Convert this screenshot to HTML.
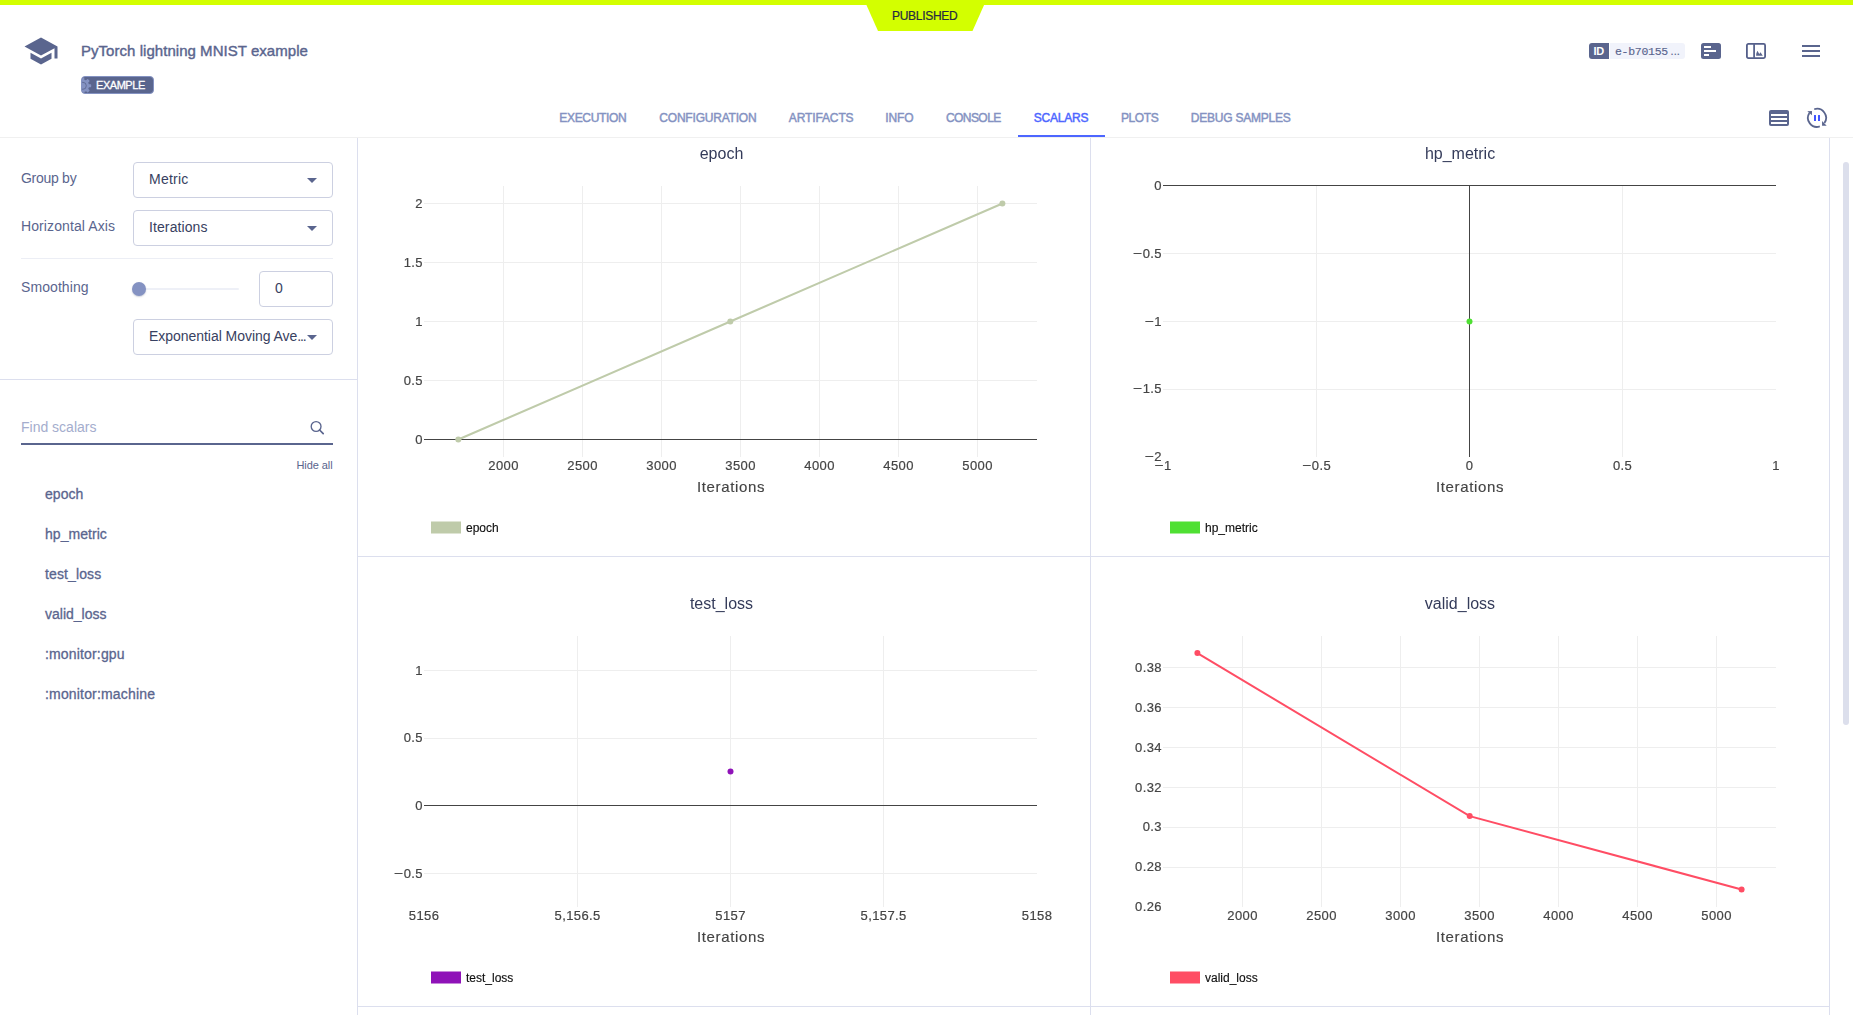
<!DOCTYPE html>
<html><head><meta charset="utf-8"><title>ClearML</title>
<style>
html,body{margin:0;padding:0;}
body{width:1853px;height:1015px;overflow:hidden;background:#fff;position:relative;font-family:"Liberation Sans", sans-serif;color:#5a658e;}
.a{position:absolute;}
.t{position:absolute;white-space:pre;line-height:1;}
.m{-webkit-text-stroke:0.3px currentColor;}
.sel{position:absolute;box-sizing:border-box;border:1px solid #ccd0e1;border-radius:4px;background:#fff;}
.arr{position:absolute;width:0;height:0;border-left:5px solid transparent;border-right:5px solid transparent;border-top:5px solid #5a658e;}
svg text{font-family:"Liberation Sans", sans-serif;}
.tk{font-size:13px;fill:#444;stroke:#444;stroke-width:0.2px;letter-spacing:0.4px;}
.ax{font-size:15px;fill:#444;stroke:#444;stroke-width:0.15px;letter-spacing:0.65px;}
.ti{font-size:16px;fill:#343b5a;}
.lg{font-size:12px;fill:#111;stroke:#111;stroke-width:0.15px;}
</style></head><body>

<div class="a" style="left:0;top:0;width:1853px;height:5px;background:#d3ff00"></div>
<svg class="a" style="left:860px;top:0" width="130" height="34"><polygon points="6,4 124.5,4 112.5,31 18,31" fill="#d3ff00"/></svg>
<div class="t" style="left:892px;top:10px;font-size:12px;letter-spacing:-0.3px;-webkit-text-stroke:0.2px #262b40;color:#262b40">PUBLISHED</div>
<svg class="a" style="left:23px;top:33px" width="36" height="36" viewBox="0 0 24 24"><path fill="#5a658e" d="M5 13.18v4L12 21l7-3.82v-4L12 17l-7-3.82zM12 3L1 9l11 6 9-4.91V17h2V9L12 3z"/></svg>
<div class="t" style="left:81px;top:43px;font-size:15px;letter-spacing:0.04px;-webkit-text-stroke:0.4px #5a658e;color:#5a658e">PyTorch lightning MNIST example</div>
<div class="a" style="left:81px;top:76px;width:73px;height:18px;box-sizing:border-box;border:1px solid #8492c2;border-radius:4px;background:#5a658e;overflow:hidden"><svg width="14" height="16" style="position:absolute;left:0;top:0"><g fill="#8492c2"><circle cx="0.8" cy="8.8" r="6.3"/><rect x="5.3" y="7.200000000000001" width="3.9" height="3.1" rx="0.7" transform="rotate(0 0.8 8.8)"/><rect x="5.3" y="7.200000000000001" width="3.9" height="3.1" rx="0.7" transform="rotate(45 0.8 8.8)"/><rect x="5.3" y="7.200000000000001" width="3.9" height="3.1" rx="0.7" transform="rotate(90 0.8 8.8)"/><rect x="5.3" y="7.200000000000001" width="3.9" height="3.1" rx="0.7" transform="rotate(135 0.8 8.8)"/><rect x="5.3" y="7.200000000000001" width="3.9" height="3.1" rx="0.7" transform="rotate(180 0.8 8.8)"/><rect x="5.3" y="7.200000000000001" width="3.9" height="3.1" rx="0.7" transform="rotate(225 0.8 8.8)"/><rect x="5.3" y="7.200000000000001" width="3.9" height="3.1" rx="0.7" transform="rotate(270 0.8 8.8)"/><rect x="5.3" y="7.200000000000001" width="3.9" height="3.1" rx="0.7" transform="rotate(315 0.8 8.8)"/></g><circle cx="0.8" cy="8.8" r="3.5" fill="none" stroke="#5a658e" stroke-width="0.8"/></svg></div>
<div class="t" style="left:96px;top:79.5px;font-size:11px;color:#fff;letter-spacing:-0.45px;-webkit-text-stroke:0.3px #fff">EXAMPLE</div>
<div class="a" style="left:1589px;top:43px;width:20px;height:16px;background:#5a658e;border-radius:3px 0 0 3px"></div>
<div class="t" style="left:1593.5px;top:46px;font-size:11px;font-weight:700;color:#fff;letter-spacing:-0.3px">ID</div>
<div class="a" style="left:1610px;top:43px;width:75px;height:16px;background:#f1f3fb;border-radius:0 3px 3px 0"></div>
<div class="t" style="left:1615px;top:46.3px;font-size:11.5px;letter-spacing:-0.28px;-webkit-text-stroke:0.15px #5a658e;font-family:'Liberation Mono', monospace;color:#5a658e">e-b70155</div>
<div class="t" style="left:1670.5px;top:46.3px;font-size:11px;color:#5a658e;letter-spacing:0.1px;-webkit-text-stroke:0.15px #5a658e">...</div>
<svg class="a" style="left:1701px;top:43px" width="20" height="16"><rect width="20" height="16" rx="2.5" fill="#5a658e"/><rect x="3" y="3" width="7" height="2" fill="#fff"/><rect x="3" y="7" width="12" height="2" fill="#fff"/><rect x="3" y="11" width="5" height="2" fill="#fff"/></svg>
<svg class="a" style="left:1746px;top:43px" width="20" height="16"><rect x="0.9" y="0.9" width="18.2" height="14.2" rx="1.5" fill="none" stroke="#545f8a" stroke-width="1.8"/><rect x="7.2" y="0.5" width="1.8" height="15" fill="#5a658e"/><path d="M10.1 12.7 L10.3 10.4 L11.4 7.8 L13.3 10.9 L14.5 9.2 L16.8 12.7 Z" fill="#5a658e"/></svg>
<svg class="a" style="left:1799px;top:39px" width="24" height="24" viewBox="0 0 24 24"><path fill="#5a658e" d="M3 18h18v-2H3v2zm0-5h18v-2H3v2zm0-7v2h18V6H3z"/></svg>
<div class="t" style="left:559.3px;top:112px;font-size:12px;letter-spacing:-0.33px;-webkit-text-stroke:0.45px #8492c2;color:#8492c2">EXECUTION</div>
<div class="t" style="left:659.3px;top:112px;font-size:12px;letter-spacing:-0.2px;-webkit-text-stroke:0.45px #8492c2;color:#8492c2">CONFIGURATION</div>
<div class="t" style="left:788.8px;top:112px;font-size:12px;letter-spacing:-0.12px;-webkit-text-stroke:0.45px #8492c2;color:#8492c2">ARTIFACTS</div>
<div class="t" style="left:885.2px;top:112px;font-size:12px;letter-spacing:-0.05px;-webkit-text-stroke:0.45px #8492c2;color:#8492c2">INFO</div>
<div class="t" style="left:945.9px;top:112px;font-size:12px;letter-spacing:-0.55px;-webkit-text-stroke:0.45px #8492c2;color:#8492c2">CONSOLE</div>
<div class="t" style="left:1033.7px;top:112px;font-size:12px;letter-spacing:-0.2px;-webkit-text-stroke:0.45px #4d66ff;color:#4d66ff">SCALARS</div>
<div class="t" style="left:1120.9px;top:112px;font-size:12px;letter-spacing:-0.38px;-webkit-text-stroke:0.45px #8492c2;color:#8492c2">PLOTS</div>
<div class="t" style="left:1190.7px;top:112px;font-size:12px;letter-spacing:-0.22px;-webkit-text-stroke:0.45px #8492c2;color:#8492c2">DEBUG SAMPLES</div>
<div class="a" style="left:1018px;top:135px;width:87px;height:2px;background:#4d66ff"></div>
<div class="a" style="left:0;top:137px;width:1853px;height:1px;background:#f0f0f0"></div>
<svg class="a" style="left:1769px;top:110px" width="20" height="16"><rect width="20" height="16" rx="2" fill="#5a658e"/><rect x="2" y="4" width="16" height="2" fill="#fff"/><rect x="2" y="8" width="16" height="2" fill="#fff"/><rect x="2" y="12" width="16" height="2" fill="#fff"/></svg>
<svg class="a" style="left:1805px;top:106px" width="24" height="24" viewBox="0 0 24 24">
<g fill="none" stroke="#5a658e" stroke-width="1.8">
<path d="M4.41 6.92 A9.05 9.05 0 0 0 14.80 20.46"/>
<path d="M9.20 3.24 A9.05 9.05 0 0 1 19.41 17.04"/>
</g>
<path d="M2.3 5.15 L6.95 4.95 L6.95 9.3 Z" fill="#5a658e"/>
<path d="M17.05 15.0 L17.05 19.85 L21.7 19.65 Z" fill="#5a658e"/>
<rect x="9" y="9" width="2" height="6" rx="0.3" fill="#4256ff"/><rect x="13" y="9" width="2" height="6" rx="0.3" fill="#4256ff"/>
</svg>
<div class="a" style="left:357px;top:138px;width:1px;height:877px;background:#dcdfee"></div>
<div class="a" style="left:0;top:379px;width:357px;height:1px;background:#dcdfee"></div>
<div class="t" style="left:21px;top:171px;font-size:14px;letter-spacing:-0.28px">Group by</div>
<div class="t" style="left:21px;top:219px;font-size:14px;letter-spacing:0.1px">Horizontal Axis</div>
<div class="t" style="left:21px;top:280px;font-size:14px;letter-spacing:0.08px">Smoothing</div>
<div class="sel" style="left:133px;top:162px;width:200px;height:36px"></div>
<div class="sel" style="left:133px;top:210px;width:200px;height:36px"></div>
<div class="sel" style="left:259px;top:271px;width:74px;height:36px"></div>
<div class="sel" style="left:133px;top:319px;width:200px;height:36px"></div>
<div class="t" style="left:149px;top:172px;font-size:14px;letter-spacing:0.25px;color:#384161">Metric</div>
<div class="t" style="left:149px;top:220px;font-size:14px;letter-spacing:0.1px;color:#384161">Iterations</div>
<div class="t" style="left:275px;top:280.5px;font-size:14px;color:#384161">0</div>
<div class="t" style="left:149px;top:329px;font-size:14px;letter-spacing:-0.04px;color:#384161">Exponential Moving Ave<span style="letter-spacing:-1.2px">...</span></div>
<div class="arr" style="left:307px;top:178px"></div>
<div class="arr" style="left:307px;top:226px"></div>
<div class="arr" style="left:307px;top:335px"></div>
<div class="a" style="left:21px;top:258px;width:312px;height:1px;background:#eceef5"></div>
<div class="a" style="left:139px;top:288px;width:100px;height:2px;background:#eef0f7;border-radius:1px"></div>
<div class="a" style="left:132px;top:282px;width:14px;height:14px;border-radius:50%;background:#8492c2;box-shadow:0 1px 1.5px rgba(60,70,110,.25)"></div>
<div class="t" style="left:21px;top:420px;font-size:14px;color:#a4adcd">Find scalars</div>
<div class="a" style="left:21px;top:443px;width:312px;height:2px;background:#5a658e"></div>
<svg class="a" style="left:308px;top:419px" width="18" height="18"><circle cx="8.1" cy="7.5" r="4.9" fill="none" stroke="#5a658e" stroke-width="1.35"/><path d="M11.6 11 L15.2 14.6" stroke="#5a658e" stroke-width="1.7" stroke-linecap="round"/></svg>
<div class="t" style="left:296.5px;top:460px;font-size:11px;letter-spacing:-0.08px">Hide all</div>
<div class="t m" style="left:45px;top:486.6px;font-size:14px;letter-spacing:0.03px">epoch</div>
<div class="t m" style="left:45px;top:526.6px;font-size:14px;letter-spacing:0.05px">hp_metric</div>
<div class="t m" style="left:45px;top:566.6px;font-size:14px;letter-spacing:0.12px">test_loss</div>
<div class="t m" style="left:45px;top:606.6px;font-size:14px;letter-spacing:0px">valid_loss</div>
<div class="t m" style="left:45px;top:646.6px;font-size:14px;letter-spacing:0.16px">:monitor:gpu</div>
<div class="t m" style="left:45px;top:686.6px;font-size:14px;letter-spacing:0.17px">:monitor:machine</div>
<div class="a" style="left:1090px;top:138px;width:1px;height:877px;background:#dcdfee"></div>
<div class="a" style="left:1829px;top:138px;width:1px;height:877px;background:#dcdfee"></div>
<div class="a" style="left:358px;top:556px;width:1471px;height:1px;background:#dcdfee"></div>
<div class="a" style="left:358px;top:1006px;width:1471px;height:1px;background:#dcdfee"></div>
<div class="a" style="left:1843px;top:162px;width:6px;height:563px;border-radius:3px;background:#dcdfec"></div>
<svg class="a" style="left:0;top:0;will-change:transform" width="1853" height="1015" viewBox="0 0 1853 1015"><rect x="503" y="186" width="1" height="271" fill="#eeeeee"/>
<rect x="582" y="186" width="1" height="271" fill="#eeeeee"/>
<rect x="661" y="186" width="1" height="271" fill="#eeeeee"/>
<rect x="740" y="186" width="1" height="271" fill="#eeeeee"/>
<rect x="819" y="186" width="1" height="271" fill="#eeeeee"/>
<rect x="898" y="186" width="1" height="271" fill="#eeeeee"/>
<rect x="977" y="186" width="1" height="271" fill="#eeeeee"/>
<rect x="424" y="203" width="613" height="1" fill="#eeeeee"/>
<rect x="424" y="262" width="613" height="1" fill="#eeeeee"/>
<rect x="424" y="321" width="613" height="1" fill="#eeeeee"/>
<rect x="424" y="380" width="613" height="1" fill="#eeeeee"/>
<rect x="424" y="439" width="613" height="1" fill="#444444"/>
<text class="ti" x="721.5" y="158.8" text-anchor="middle">epoch</text>
<text class="tk" x="503.6" y="470" text-anchor="middle">2000</text>
<text class="tk" x="582.6" y="470" text-anchor="middle">2500</text>
<text class="tk" x="661.6" y="470" text-anchor="middle">3000</text>
<text class="tk" x="740.6" y="470" text-anchor="middle">3500</text>
<text class="tk" x="819.6" y="470" text-anchor="middle">4000</text>
<text class="tk" x="898.6" y="470" text-anchor="middle">4500</text>
<text class="tk" x="977.6" y="470" text-anchor="middle">5000</text>
<text class="tk" x="423" y="207.8" text-anchor="end">2</text>
<text class="tk" x="423" y="266.8" text-anchor="end">1.5</text>
<text class="tk" x="423" y="325.8" text-anchor="end">1</text>
<text class="tk" x="423" y="384.8" text-anchor="end">0.5</text>
<text class="tk" x="423" y="443.8" text-anchor="end">0</text>
<text class="ax" x="731.0" y="492" text-anchor="middle">Iterations</text>
<path d="M458.3,439.5 L730.3,321.5 L1002.4,203.5" fill="none" stroke="#bfcbaa" stroke-width="2"/>
<circle cx="458.3" cy="439.5" r="3" fill="#bfcbaa"/>
<circle cx="730.3" cy="321.5" r="3" fill="#bfcbaa"/>
<circle cx="1002.4" cy="203.5" r="3" fill="#bfcbaa"/>
<rect x="431" y="521.5" width="30" height="12" fill="#bfcbaa"/>
<text class="lg" x="466" y="532">epoch</text>
<rect x="1316" y="186" width="1" height="271" fill="#eeeeee"/>
<rect x="1622" y="186" width="1" height="271" fill="#eeeeee"/>
<rect x="1163" y="253" width="613" height="1" fill="#eeeeee"/>
<rect x="1163" y="321" width="613" height="1" fill="#eeeeee"/>
<rect x="1163" y="389" width="613" height="1" fill="#eeeeee"/>
<rect x="1469" y="186" width="1" height="271" fill="#444444"/>
<rect x="1163" y="185" width="613" height="1" fill="#444444"/>
<text class="ti" x="1460" y="158.8" text-anchor="middle">hp_metric</text>
<text class="tk" x="1163.1" y="470" text-anchor="middle"><tspan textLength="9.6" lengthAdjust="spacingAndGlyphs">−</tspan>1</text>
<text class="tk" x="1316.6" y="470" text-anchor="middle"><tspan textLength="9.6" lengthAdjust="spacingAndGlyphs">−</tspan>0.5</text>
<text class="tk" x="1469.6" y="470" text-anchor="middle">0</text>
<text class="tk" x="1622.6" y="470" text-anchor="middle">0.5</text>
<text class="tk" x="1776.1" y="470" text-anchor="middle">1</text>
<text class="tk" x="1162" y="189.8" text-anchor="end">0</text>
<text class="tk" x="1162" y="257.8" text-anchor="end"><tspan textLength="9.6" lengthAdjust="spacingAndGlyphs">−</tspan>0.5</text>
<text class="tk" x="1162" y="325.8" text-anchor="end"><tspan textLength="9.6" lengthAdjust="spacingAndGlyphs">−</tspan>1</text>
<text class="tk" x="1162" y="392.8" text-anchor="end"><tspan textLength="9.6" lengthAdjust="spacingAndGlyphs">−</tspan>1.5</text>
<text class="tk" x="1162" y="460.8" text-anchor="end"><tspan textLength="9.6" lengthAdjust="spacingAndGlyphs">−</tspan>2</text>
<text class="ax" x="1470.0" y="492" text-anchor="middle">Iterations</text>
<circle cx="1469.5" cy="321.5" r="3" fill="#4fe033"/>
<rect x="1170" y="521.5" width="30" height="12" fill="#4fe033"/>
<text class="lg" x="1205" y="532">hp_metric</text>
<rect x="577" y="636" width="1" height="271" fill="#eeeeee"/>
<rect x="730" y="636" width="1" height="271" fill="#eeeeee"/>
<rect x="883" y="636" width="1" height="271" fill="#eeeeee"/>
<rect x="424" y="670" width="613" height="1" fill="#eeeeee"/>
<rect x="424" y="738" width="613" height="1" fill="#eeeeee"/>
<rect x="424" y="873" width="613" height="1" fill="#eeeeee"/>
<rect x="424" y="805" width="613" height="1" fill="#444444"/>
<text class="ti" x="721.5" y="608.8" text-anchor="middle">test_loss</text>
<text class="tk" x="424.1" y="920" text-anchor="middle">5156</text>
<text class="tk" x="577.6" y="920" text-anchor="middle">5,156.5</text>
<text class="tk" x="730.6" y="920" text-anchor="middle">5157</text>
<text class="tk" x="883.6" y="920" text-anchor="middle">5,157.5</text>
<text class="tk" x="1037.1" y="920" text-anchor="middle">5158</text>
<text class="tk" x="423" y="674.8" text-anchor="end">1</text>
<text class="tk" x="423" y="741.8" text-anchor="end">0.5</text>
<text class="tk" x="423" y="809.8" text-anchor="end">0</text>
<text class="tk" x="423" y="877.8" text-anchor="end"><tspan textLength="9.6" lengthAdjust="spacingAndGlyphs">−</tspan>0.5</text>
<text class="ax" x="731.0" y="942" text-anchor="middle">Iterations</text>
<circle cx="730.5" cy="771.55" r="3" fill="#8f12b8"/>
<rect x="431" y="971.5" width="30" height="12" fill="#8f12b8"/>
<text class="lg" x="466" y="982">test_loss</text>
<rect x="1242" y="636" width="1" height="271" fill="#eeeeee"/>
<rect x="1321" y="636" width="1" height="271" fill="#eeeeee"/>
<rect x="1400" y="636" width="1" height="271" fill="#eeeeee"/>
<rect x="1479" y="636" width="1" height="271" fill="#eeeeee"/>
<rect x="1558" y="636" width="1" height="271" fill="#eeeeee"/>
<rect x="1637" y="636" width="1" height="271" fill="#eeeeee"/>
<rect x="1716" y="636" width="1" height="271" fill="#eeeeee"/>
<rect x="1163" y="667" width="613" height="1" fill="#eeeeee"/>
<rect x="1163" y="707" width="613" height="1" fill="#eeeeee"/>
<rect x="1163" y="747" width="613" height="1" fill="#eeeeee"/>
<rect x="1163" y="787" width="613" height="1" fill="#eeeeee"/>
<rect x="1163" y="827" width="613" height="1" fill="#eeeeee"/>
<rect x="1163" y="867" width="613" height="1" fill="#eeeeee"/>
<text class="ti" x="1460" y="608.8" text-anchor="middle">valid_loss</text>
<text class="tk" x="1242.6" y="920" text-anchor="middle">2000</text>
<text class="tk" x="1321.6" y="920" text-anchor="middle">2500</text>
<text class="tk" x="1400.6" y="920" text-anchor="middle">3000</text>
<text class="tk" x="1479.6" y="920" text-anchor="middle">3500</text>
<text class="tk" x="1558.6" y="920" text-anchor="middle">4000</text>
<text class="tk" x="1637.6" y="920" text-anchor="middle">4500</text>
<text class="tk" x="1716.6" y="920" text-anchor="middle">5000</text>
<text class="tk" x="1162" y="671.8" text-anchor="end">0.38</text>
<text class="tk" x="1162" y="711.8" text-anchor="end">0.36</text>
<text class="tk" x="1162" y="751.8" text-anchor="end">0.34</text>
<text class="tk" x="1162" y="791.8" text-anchor="end">0.32</text>
<text class="tk" x="1162" y="830.8" text-anchor="end">0.3</text>
<text class="tk" x="1162" y="870.8" text-anchor="end">0.28</text>
<text class="tk" x="1162" y="910.8" text-anchor="end">0.26</text>
<text class="ax" x="1470.0" y="942" text-anchor="middle">Iterations</text>
<path d="M1197.4,653.1 L1469.7,816.1 L1741.6,889.5" fill="none" stroke="#ff4d64" stroke-width="2"/>
<circle cx="1197.4" cy="653.1" r="3" fill="#ff4d64"/>
<circle cx="1469.7" cy="816.1" r="3" fill="#ff4d64"/>
<circle cx="1741.6" cy="889.5" r="3" fill="#ff4d64"/>
<rect x="1170" y="971.5" width="30" height="12" fill="#ff4d64"/>
<text class="lg" x="1205" y="982">valid_loss</text></svg>
</body></html>
